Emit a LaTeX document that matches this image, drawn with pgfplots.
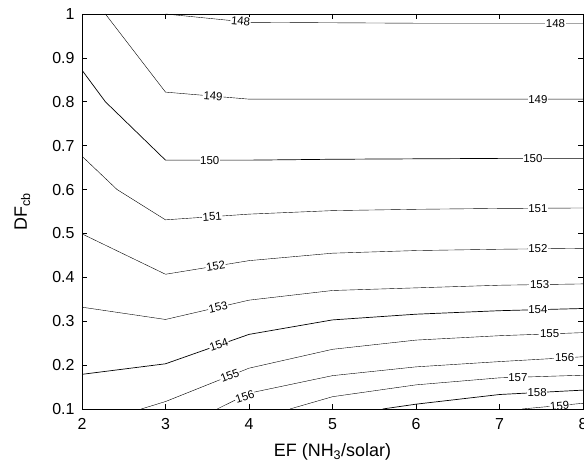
\documentclass[border=0pt]{standalone}
\usepackage{pgfplots}
\pgfplotsset{compat=1.18}
\usepackage{fontspec}
\setmainfont{Liberation Sans}
\tikzset{lbl/.style={fill=white, inner sep=0.6pt, font=\fontsize{11.5}{12}\selectfont}}
\begin{document}
\begin{tikzpicture}
\begin{axis}[
  width=501bp, height=395bp, scale only axis,
  xmin=2, xmax=8, ymin=0.1, ymax=1,
  xtick={2,3,4,5,6,7,8},
  ytick={0.1,0.2,0.3,0.4,0.5,0.6,0.7,0.8,0.9,1},
  yticklabels={0.1,0.2,0.3,0.4,0.5,0.6,0.7,0.8,0.9,1},
  tick align=inside, tick pos=both,
  major tick length=5bp,
  axis line style={line width=0.8pt},
  tick style={line width=0.6pt, black},
  /pgf/number format/assume math mode=true,
  tick label style={font=\fontsize{16}{18}\selectfont},
  xticklabel style={yshift=-6bp},
  yticklabel style={xshift=-4bp},
  label style={font=\fontsize{18}{20}\selectfont},
  xlabel={EF (NH\textsubscript{3}/solar)},
  ylabel={DF\textsubscript{cb}},
  xlabel style={at={(axis description cs:0.5,-0.1215)}, anchor=base},
  ylabel style={at={(axis description cs:-0.1098,0.5)}, anchor=base},
  cycle list={{black, solid, line width=0.7pt, mark=none}},
  clip=true,
]
% contour 148
\addplot coordinates {(3,1.0) (4,0.981) (5,0.980) (6,0.979) (7,0.979) (8,0.979)};
% contour 149
\addplot coordinates {(2.28,1.0) (3,0.822) (4,0.806) (5,0.806) (6,0.806) (7,0.806) (8,0.806)};
% contour 150
\addplot coordinates {(2,0.872) (2.28,0.800) (3,0.667) (4,0.667) (5,0.669) (6,0.670) (7,0.671) (8,0.671)};
% contour 151
\addplot coordinates {(2,0.676) (2.42,0.600) (3,0.531) (4,0.544) (5,0.552) (6,0.555) (7,0.557) (8,0.558)};
% contour 152
\addplot coordinates {(2,0.499) (3,0.407) (4,0.438) (5,0.455) (6,0.461) (7,0.464) (8,0.466)};
% contour 153
\addplot coordinates {(2,0.332) (3,0.304) (4,0.348) (5,0.370) (6,0.376) (7,0.382) (8,0.385)};
% contour 154
\addplot coordinates {(2,0.179) (3,0.203) (4,0.270) (5,0.303) (6,0.316) (7,0.324) (8,0.329)};
% contour 155
\addplot coordinates {(2.71,0.1) (3,0.117) (4,0.193) (5,0.236) (6,0.257) (7,0.267) (8,0.274)};
% contour 156
\addplot coordinates {(3.62,0.1) (4,0.136) (5,0.176) (6,0.196) (7,0.208) (8,0.219)};
% contour 157
\addplot coordinates {(4.49,0.1) (5,0.128) (6,0.155) (7,0.171) (8,0.177)};
% contour 158
\addplot coordinates {(5.6,0.1) (6,0.111) (7,0.133) (8,0.143)};
% contour 159
\addplot coordinates {(7.27,0.1) (8,0.113)};
% labels
\node[lbl, rotate=-5] at (axis cs:3.9,0.984) {148};
\node[lbl] at (axis cs:7.67,0.979) {148};
\node[lbl, rotate=-4] at (axis cs:3.57,0.813) {149};
\node[lbl] at (axis cs:7.46,0.806) {149};
\node[lbl] at (axis cs:3.53,0.667) {150};
\node[lbl] at (axis cs:7.4,0.671) {150};
\node[lbl, rotate=4] at (axis cs:3.56,0.538) {151};
\node[lbl] at (axis cs:7.46,0.557) {151};
\node[lbl, rotate=9] at (axis cs:3.6,0.426) {152};
\node[lbl] at (axis cs:7.46,0.465) {152};
\node[lbl, rotate=13] at (axis cs:3.63,0.332) {153};
\node[lbl] at (axis cs:7.48,0.384) {153};
\node[lbl, rotate=19] at (axis cs:3.64,0.246) {154};
\node[lbl] at (axis cs:7.46,0.327) {154};
\node[lbl, rotate=21] at (axis cs:3.77,0.176) {155};
\node[lbl] at (axis cs:7.6,0.271) {155};
\node[lbl, rotate=18] at (axis cs:3.95,0.128) {156};
\node[lbl] at (axis cs:7.78,0.217) {156};
\node[lbl] at (axis cs:7.22,0.172) {157};
\node[lbl] at (axis cs:7.45,0.137) {158};
\node[lbl, rotate=5] at (axis cs:7.72,0.107) {159};
\end{axis}
\pgfresetboundingbox
\useasboundingbox ([xshift=-82bp,yshift=-61bp]current axis.south west) rectangle ([xshift=1bp,yshift=14bp]current axis.north east);
\end{tikzpicture}
\end{document}
